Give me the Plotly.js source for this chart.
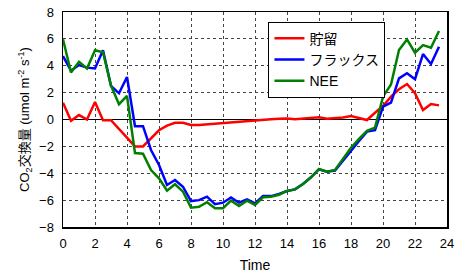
<!DOCTYPE html>
<html>
<head>
<meta charset="utf-8">
<script src="https://cdn.plot.ly/plotly-3.0.1.min.js"></script>
<style>html,body{margin:0;padding:0;background:#fff}#chart{width:465px;height:274px}</style>
</head>
<body>
<div id="chart"></div>
<script>
const time = [0,0.5,1,1.5,2,2.5,3,3.5,4,4.5,5,5.5,6,6.5,7,7.5,8,8.5,9,9.5,10,10.5,11,11.5,12,12.5,13,13.5,14,14.5,15,15.5,16,16.5,17,17.5,18,18.5,19,19.5,20,20.5,21,21.5,22,22.5,23,23.5];
const storage = [1.25,-0.1,0.33,0,1.3,-0.05,-0.05,-0.7,-1.35,-2.0,-2.0,-1.4,-0.8,-0.45,-0.25,-0.25,-0.4,-0.4,-0.35,-0.3,-0.25,-0.2,-0.15,-0.08,-0.05,0,0.02,0.05,0.08,0.02,0.05,0.12,0.16,0.05,0.1,0.15,0.26,0.1,-0.04,0.5,1.0,1.7,2.25,2.64,1.95,0.7,1.15,1.05];
const flux = [4.72,3.63,4.05,3.86,3.8,5.15,2.5,1.95,3.16,-0.5,-0.5,-2.27,-3.38,-4.87,-4.5,-5.0,-6.07,-6.0,-5.74,-6.3,-6.19,-5.8,-6.19,-5.94,-6.24,-5.7,-5.7,-5.54,-5.32,-5.2,-4.8,-4.3,-3.7,-3.88,-3.8,-3.05,-2.35,-1.6,-0.9,-0.8,0.95,1.25,3.06,3.44,3.0,4.87,4.13,5.42];
const nee = [5.97,3.5,4.3,3.8,5.15,5.0,2.53,1.14,1.75,-2.5,-2.55,-3.76,-4.38,-5.3,-4.82,-5.37,-6.56,-6.5,-6.15,-6.6,-6.6,-6.04,-6.43,-6.04,-6.36,-5.79,-5.75,-5.6,-5.32,-5.2,-4.8,-4.3,-3.7,-3.88,-3.75,-2.95,-2.1,-1.45,-0.85,-0.6,1.7,2.6,5.17,5.96,4.97,5.54,5.34,6.58];
const seriesNames = ['貯留','フラックス','NEE'];
const xTicks = [0,2,4,6,8,10,12,14,16,18,20,22,24];
const yTicks = [-8,-6,-4,-2,0,2,4,6,8];

const font = 'Liberation Sans, Arial, Noto Sans CJK JP, sans-serif';
const colors = ['#ff0000','#0000ff','#008000'];
const ys = [storage, flux, nee];
const traces = ys.map((y,i)=>({
  x: time, y: y, type:'scatter', mode:'lines', name: seriesNames[i],
  legendgroup: 'g'+i,
  line:{color:colors[i], width:2.5}
}));

const axisCommon = {
  showline:true, mirror:true, linecolor:'#000', linewidth:1.5,
  showgrid:true, gridcolor:'#444', griddash:'dot', gridwidth:1,
  ticks:'', tickfont:{family:font, size:13, color:'#000'}
};

const layout = {
  width:465, height:274,
  margin:{l:63, r:18, t:12, b:47},
  paper_bgcolor:'#fff', plot_bgcolor:'#fff',
  font:{family:font, color:'#000'},
  showlegend:true,
  legend:{x:0.535, y:0.955, xanchor:'left', yanchor:'top',
    bordercolor:'#000', borderwidth:1, bgcolor:'#fff',
    font:{family:font, size:14, color:'#000'},
    traceorder:'grouped', tracegroupgap:0, itemwidth:30},
  xaxis: Object.assign({}, axisCommon, {
    range:[0,24], tickvals:xTicks, zeroline:false, ticklabelstandoff:4,
    title:{text:'Time', font:{family:font, size:14, color:'#000'}, standoff:10}
  }),
  yaxis: Object.assign({}, axisCommon, {
    range:[-8,8], tickvals:yTicks, zeroline:true, zerolinecolor:'#000', zerolinewidth:1.5, ticklabelstandoff:5,
    title:{text:'CO<sub>2</sub>交換量 (umol m<sup>-2</sup> s<sup>-1</sup>)', font:{family:font, size:13, color:'#000'}, standoff:6}
  })
};
Plotly.newPlot('chart', traces, layout, {staticPlot:true, displayModeBar:false});
</script>
</body>
</html>
